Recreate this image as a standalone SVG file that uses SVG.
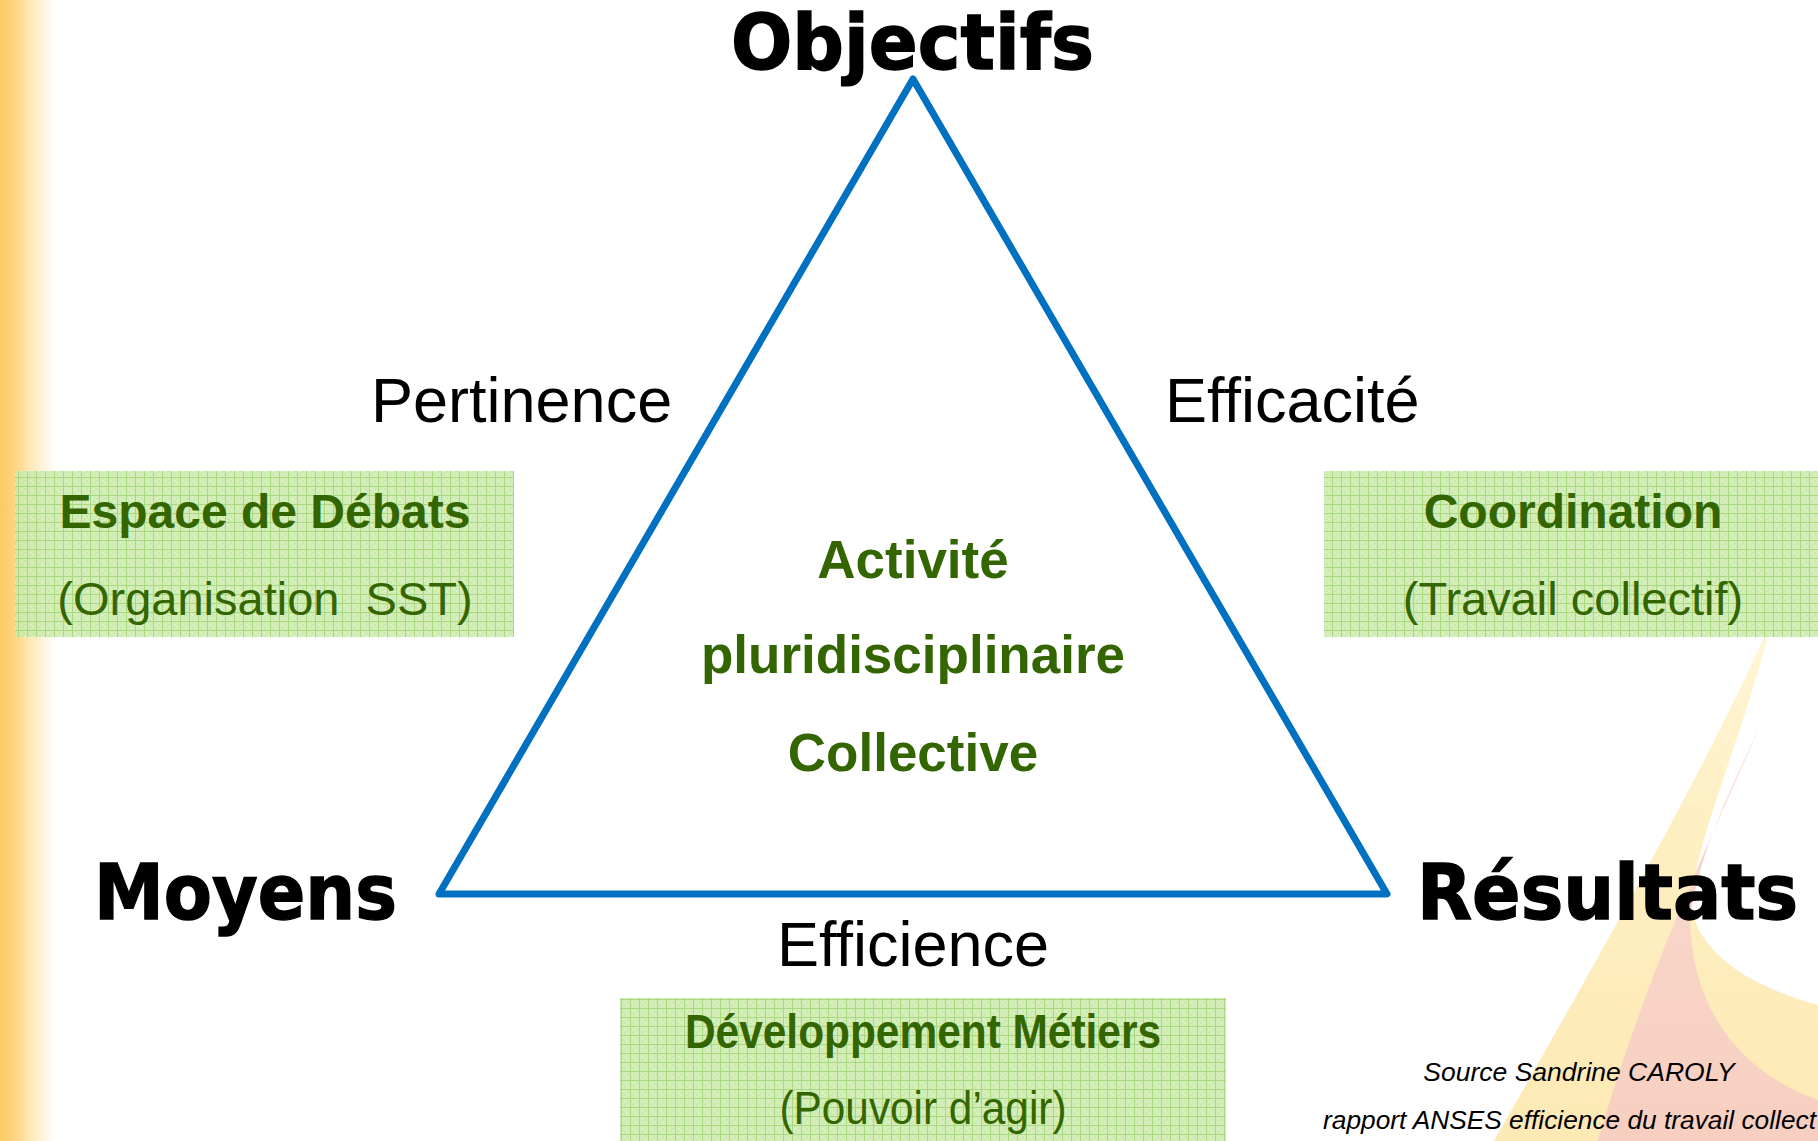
<svg xmlns="http://www.w3.org/2000/svg" width="1818" height="1141" viewBox="0 0 1818 1141">
  <defs>
    <linearGradient id="leftStrip" x1="0" y1="0" x2="1" y2="0">
      <stop offset="0" stop-color="#FCC966"/>
      <stop offset="0.22" stop-color="#FDD27A"/>
      <stop offset="0.5" stop-color="#FDE6AE"/>
      <stop offset="0.8" stop-color="#FEF6E0"/>
      <stop offset="1" stop-color="#FFFFFF"/>
    </linearGradient>
    <linearGradient id="yellowSwoosh" x1="0" y1="0" x2="0" y2="1">
      <stop offset="0" stop-color="#FFF6D8"/>
      <stop offset="0.4" stop-color="#FEEFC2"/>
      <stop offset="1" stop-color="#FDE9B4"/>
    </linearGradient>
    <linearGradient id="pinkSwoosh" x1="0" y1="0" x2="0" y2="1">
      <stop offset="0" stop-color="#F9E3DA"/>
      <stop offset="0.4" stop-color="#F8D6CA"/>
      <stop offset="1" stop-color="#F7CFC0"/>
    </linearGradient>
    <pattern id="gridTexture" width="9" height="9" patternUnits="userSpaceOnUse">
      <rect width="9" height="9" fill="#CDEAAE" fill-opacity="0.88"/>
      <rect x="0" y="0" width="9" height="1" fill="#A9D87E"/>
      <rect x="0" y="0" width="1" height="9" fill="#A9D87E"/>
      <rect x="3" y="3" width="1" height="1" fill="#E2F3CF"/>
      <rect x="6" y="6" width="1" height="1" fill="#E2F3CF"/>
      <rect x="3" y="6" width="1" height="1" fill="#BFE39A"/>
      <rect x="6" y="3" width="1" height="1" fill="#BFE39A"/>
    </pattern>
  </defs>
  <style>
    .vertex { font-family: "DejaVu Sans", "Liberation Sans", Arial, sans-serif; font-weight: bold; font-size: 76px; fill: #000000; stroke: #000000; stroke-width: 1.4px; }
    .edgeLabel { font-family: "Liberation Sans", Arial, sans-serif; font-size: 63px; fill: #000000; }
    .center { font-family: "Liberation Sans", Arial, sans-serif; font-weight: bold; font-size: 53px; fill: #336600; text-anchor: middle; }
    .boxTitle { font-family: "Liberation Sans", Arial, sans-serif; font-weight: bold; font-size: 48px; fill: #336600; text-anchor: middle; }
    .boxSub { font-family: "Liberation Sans", Arial, sans-serif; font-size: 47px; fill: #336600; text-anchor: middle; white-space: pre; }
    .box { fill: url(#gridTexture); }
    .source { font-family: "Liberation Sans", Arial, sans-serif; font-style: italic; font-size: 26.5px; fill: #000000; }
    .edge { fill: none; stroke: #0070C0; stroke-width: 7; stroke-linejoin: round; stroke-linecap: round; }
  </style>

  <!-- background -->
  <rect x="0" y="0" width="1818" height="1141" fill="#FFFFFF"/>
  <rect x="0" y="0" width="56" height="1141" fill="url(#leftStrip)"/>
  <path d="M1772,620 C1705,770 1600,955 1494,1141 L1818,1141 L1818,1005 C1745,985 1695,950 1690,900 C1700,830 1745,730 1772,620 Z" fill="url(#yellowSwoosh)"/>
  <path d="M1763,719 C1720,820 1650,960 1598,1141 L1818,1141 L1818,1100 C1735,1070 1692,1005 1690,920 C1700,845 1738,775 1763,719 Z" fill="url(#pinkSwoosh)"/>

  <!-- connectors: triangle edges -->
  <g id="connectors">
    <path class="edge" d="M913,79 L1387,894 L439,894 Z"/>
  </g>

  <!-- vertex nodes -->
  <g id="node-objectifs">
    <text class="vertex" x="731" y="69" textLength="363" lengthAdjust="spacingAndGlyphs">Objectifs</text>
  </g>
  <g id="node-moyens">
    <text class="vertex" x="94" y="919" textLength="303" lengthAdjust="spacingAndGlyphs">Moyens</text>
  </g>
  <g id="node-resultats">
    <text class="vertex" x="1417" y="919" textLength="381" lengthAdjust="spacingAndGlyphs">Résultats</text>
  </g>

  <!-- edge labels -->
  <g id="label-pertinence">
    <text class="edgeLabel" x="371" y="422">Pertinence</text>
  </g>
  <g id="label-efficacite">
    <text class="edgeLabel" x="1165" y="422">Efficacité</text>
  </g>
  <g id="label-efficience">
    <text class="edgeLabel" x="913" y="966" text-anchor="middle">Efficience</text>
  </g>

  <!-- center -->
  <g id="node-center">
    <text class="center" x="913" y="578">Activité</text>
    <text class="center" x="913" y="673">pluridisciplinaire</text>
    <text class="center" x="913" y="771">Collective</text>
  </g>

  <!-- boxes -->
  <g id="box-espace">
    <rect class="box" x="15" y="471" width="499" height="166"/>
    <text class="boxTitle" x="265" y="528">Espace de Débats</text>
    <text class="boxSub" x="265" y="615">(Organisation  SST)</text>
  </g>
  <g id="box-coordination">
    <rect class="box" x="1324" y="471" width="494" height="166"/>
    <text class="boxTitle" x="1573" y="528">Coordination</text>
    <text class="boxSub" x="1573" y="615">(Travail collectif)</text>
  </g>
  <g id="box-developpement">
    <rect class="box" x="620" y="998" width="606" height="143"/>
    <text class="boxTitle" x="923" y="1048" font-size="41" textLength="476" lengthAdjust="spacingAndGlyphs">Développement Métiers</text>
    <text class="boxSub" x="923" y="1124" font-size="40" textLength="287" lengthAdjust="spacingAndGlyphs">(Pouvoir d’agir)</text>
  </g>

  <!-- source -->
  <g id="source">
    <text class="source" x="1579" y="1081" text-anchor="middle">Source Sandrine CAROLY</text>
    <text class="source" x="1323" y="1129" textLength="493" lengthAdjust="spacingAndGlyphs">rapport ANSES efficience du travail collect</text>
  </g>
</svg>
